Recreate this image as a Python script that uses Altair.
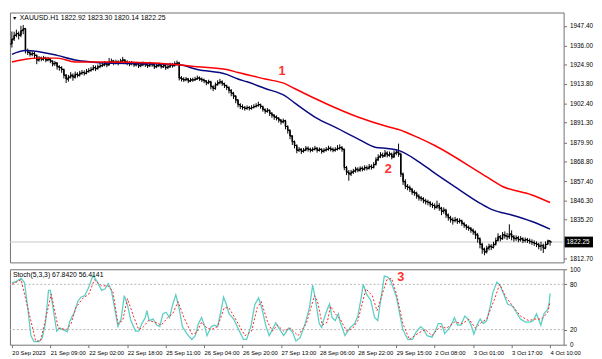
import altair as alt
import pandas as pd

# ---------------- data ----------------
first_open = 1936.9
closes = [
    1939.7, 1941.9, 1943.0, 1941.9, 1944.6, 1945.7, 1933.1, 1932.0, 1930.9, 1931.4,
    1930.3, 1927.6, 1928.7, 1928.1, 1928.7, 1927.6, 1928.1, 1927.0, 1925.4, 1925.9,
    1923.7, 1923.2, 1922.1, 1918.8, 1916.6, 1917.7, 1918.8, 1917.7, 1919.3, 1918.8,
    1919.9, 1920.4, 1919.9, 1921.0, 1921.5, 1922.1, 1923.2, 1922.6, 1923.7, 1924.3,
    1924.8, 1925.4, 1924.8, 1926.5, 1927.0, 1925.9, 1926.5, 1925.9, 1927.0, 1927.6,
    1926.5, 1925.9, 1925.4, 1925.9, 1924.8, 1925.4, 1924.3, 1924.8, 1925.4, 1924.8,
    1924.3, 1925.4, 1924.8, 1923.7, 1924.3, 1924.8, 1923.7, 1924.3, 1923.2, 1923.7,
    1924.8, 1924.3, 1925.4, 1925.9, 1917.2, 1916.6, 1916.1, 1916.6, 1915.5, 1916.1,
    1916.1, 1916.6, 1917.2, 1916.6, 1916.1, 1915.5, 1914.4, 1915.0, 1912.2, 1911.1,
    1913.3, 1914.4, 1915.0, 1913.9, 1912.8, 1911.7, 1910.0, 1908.4, 1906.7, 1904.5,
    1901.8, 1900.7, 1900.1, 1899.6, 1900.1, 1899.6, 1900.1, 1900.7, 1901.2, 1901.8,
    1900.7, 1899.0, 1897.9, 1898.5, 1896.8, 1895.7, 1894.6, 1894.0, 1892.9, 1891.8,
    1892.4, 1889.1, 1886.9, 1883.6, 1880.3, 1878.1, 1875.4, 1875.9, 1874.8, 1875.4,
    1876.5, 1875.9, 1875.4, 1875.9, 1876.5, 1875.4, 1875.9, 1874.8, 1875.4, 1875.9,
    1876.5, 1875.9, 1875.4, 1875.9, 1876.5, 1877.0, 1875.9, 1865.4, 1862.7, 1861.6,
    1862.7, 1863.3, 1864.4, 1863.8, 1864.9, 1864.4, 1865.4, 1864.9, 1866.0, 1865.4,
    1867.1, 1869.8, 1871.5, 1872.6, 1872.1, 1873.7, 1872.6, 1873.2, 1871.5, 1873.7,
    1874.3, 1873.2, 1861.6, 1857.2, 1854.5, 1853.9, 1852.8, 1851.1, 1850.6, 1848.9,
    1847.8, 1847.3, 1846.2, 1845.6, 1845.1, 1844.0, 1843.4, 1842.3, 1843.4, 1841.8,
    1840.1, 1840.7, 1837.9, 1836.3, 1835.2, 1834.6, 1835.2, 1834.1, 1834.6, 1833.0,
    1831.9, 1830.8, 1830.2, 1829.1, 1828.0, 1826.4, 1824.2, 1820.9, 1818.1, 1816.5,
    1818.7, 1819.8, 1819.2, 1820.9, 1823.1, 1825.3, 1824.2, 1826.4, 1825.8, 1825.3,
    1826.9, 1825.3, 1824.2, 1824.7, 1823.6, 1824.2, 1823.1, 1823.6, 1823.1, 1822.5,
    1822.0, 1821.4, 1820.9, 1819.8, 1820.3, 1818.7, 1820.9, 1822.9, 1822.25,
]
highs = [
    1944.1, 1944.0, 1945.2, 1944.1, 1947.4, 1947.9, 1946.2, 1934.2, 1933.1, 1932.6,
    1932.2, 1930.8, 1929.9, 1929.6, 1930.0, 1929.5, 1929.4, 1928.9, 1927.5, 1927.0,
    1926.4, 1924.6, 1924.0, 1922.7, 1919.5, 1919.0, 1920.6, 1919.8, 1920.9, 1920.5,
    1921.3, 1921.8, 1921.6, 1922.4, 1922.9, 1923.6, 1924.7, 1924.4, 1925.0, 1925.8,
    1926.3, 1926.9, 1926.6, 1928.8, 1928.4, 1927.7, 1927.8, 1927.5, 1928.3, 1929.4,
    1928.2, 1927.4, 1926.9, 1927.1, 1926.6, 1926.5, 1926.0, 1925.9, 1926.7, 1926.3,
    1925.7, 1926.6, 1926.2, 1925.3, 1925.4, 1926.1, 1925.5, 1925.6, 1924.9, 1924.8,
    1926.0, 1925.9, 1926.8, 1927.3, 1926.6, 1918.3, 1917.6, 1917.8, 1917.2, 1917.3,
    1917.4, 1917.9, 1918.6, 1918.1, 1917.5, 1916.9, 1916.0, 1916.2, 1915.6, 1913.0,
    1914.6, 1915.9, 1916.7, 1915.8, 1914.5, 1913.3, 1912.4, 1910.8, 1909.2, 1907.3,
    1905.0, 1902.6, 1901.9, 1901.0, 1901.3, 1901.0, 1901.4, 1902.0, 1902.6, 1903.5,
    1902.4, 1901.2, 1899.6, 1899.8, 1899.0, 1897.4, 1896.3, 1895.6, 1894.5, 1893.5,
    1893.7, 1893.0, 1889.8, 1887.5, 1884.2, 1881.0, 1878.8, 1877.2, 1876.6, 1876.7,
    1877.8, 1877.6, 1876.9, 1877.1, 1877.9, 1877.2, 1877.0, 1876.5, 1876.6, 1877.2,
    1878.0, 1877.6, 1876.9, 1877.1, 1878.4, 1878.8, 1877.8, 1876.4, 1866.3, 1863.9,
    1864.0, 1864.6, 1865.8, 1865.5, 1866.1, 1866.0, 1866.7, 1866.5, 1867.4, 1867.2,
    1868.5, 1871.3, 1873.0, 1874.3, 1874.0, 1875.5, 1874.8, 1874.6, 1874.0, 1875.2,
    1876.0, 1879.2, 1874.0, 1862.5, 1858.6, 1855.8, 1854.9, 1853.6, 1852.3, 1851.4,
    1849.9, 1848.9, 1848.2, 1847.3, 1846.7, 1846.0, 1845.1, 1844.6, 1846.2, 1844.8,
    1842.6, 1842.3, 1841.5, 1838.8, 1837.4, 1836.5, 1836.8, 1836.1, 1836.0, 1835.2,
    1833.8, 1832.6, 1831.8, 1831.0, 1830.0, 1828.9, 1827.5, 1825.0, 1821.8, 1819.0,
    1820.1, 1821.3, 1821.0, 1822.4, 1824.8, 1827.3, 1826.3, 1828.0, 1828.4, 1827.5,
    1832.5, 1829.0, 1826.3, 1826.1, 1825.8, 1825.7, 1825.0, 1824.9, 1824.6, 1824.3,
    1823.8, 1823.2, 1822.6, 1821.8, 1822.4, 1821.3, 1822.6, 1823.6, 1823.30,
]
lows = [
    1934.8, 1938.6, 1940.8, 1939.5, 1940.8, 1942.5, 1931.4, 1930.5, 1929.6, 1929.8,
    1928.4, 1925.2, 1926.6, 1926.9, 1927.2, 1926.3, 1926.8, 1925.8, 1923.9, 1924.2,
    1922.0, 1921.4, 1920.2, 1916.9, 1914.3, 1915.1, 1916.9, 1915.6, 1916.8, 1917.5,
    1918.0, 1919.0, 1918.6, 1919.3, 1920.2, 1920.8, 1921.5, 1921.2, 1922.0, 1922.9,
    1923.5, 1924.0, 1923.4, 1924.2, 1925.6, 1924.6, 1925.1, 1924.5, 1925.3, 1926.1,
    1925.2, 1924.6, 1924.0, 1924.5, 1923.6, 1923.9, 1923.0, 1923.4, 1924.0, 1923.6,
    1923.0, 1923.5, 1923.7, 1922.4, 1922.9, 1923.5, 1922.6, 1923.0, 1921.9, 1922.4,
    1923.1, 1923.2, 1923.8, 1924.7, 1915.8, 1915.2, 1914.9, 1915.3, 1914.2, 1914.8,
    1915.0, 1915.4, 1916.0, 1915.5, 1914.9, 1914.2, 1913.0, 1913.6, 1910.6, 1909.6,
    1910.3, 1912.7, 1913.5, 1912.6, 1911.4, 1910.2, 1908.3, 1906.6, 1905.0, 1902.6,
    1900.2, 1899.2, 1898.8, 1898.3, 1898.7, 1898.4, 1898.8, 1899.5, 1900.0, 1900.6,
    1899.4, 1897.7, 1896.5, 1897.1, 1895.2, 1894.1, 1893.0, 1892.6, 1891.4, 1890.2,
    1890.9, 1887.5, 1885.0, 1881.7, 1878.4, 1876.4, 1873.6, 1874.3, 1873.2, 1873.9,
    1874.8, 1874.6, 1874.1, 1874.5, 1875.2, 1874.0, 1874.6, 1873.4, 1873.9, 1874.6,
    1875.1, 1874.7, 1874.2, 1874.5, 1875.2, 1875.6, 1874.5, 1863.8, 1861.0, 1857.7,
    1860.4, 1861.6, 1862.4, 1862.6, 1862.9, 1863.1, 1863.6, 1863.7, 1864.2, 1864.1,
    1864.8, 1866.5, 1869.1, 1870.8, 1870.9, 1871.4, 1871.2, 1871.6, 1870.1, 1870.8,
    1872.5, 1871.6, 1859.9, 1855.3, 1852.9, 1852.2, 1851.2, 1849.6, 1849.0, 1847.3,
    1846.2, 1845.8, 1844.7, 1844.0, 1843.5, 1842.5, 1841.9, 1840.9, 1841.5, 1840.3,
    1837.8, 1838.6, 1836.2, 1834.6, 1833.5, 1832.3, 1833.6, 1832.7, 1833.0, 1831.6,
    1830.4, 1829.3, 1828.7, 1827.6, 1826.4, 1824.0, 1821.8, 1818.6, 1815.4, 1814.6,
    1815.6, 1817.4, 1817.6, 1818.5, 1820.2, 1822.5, 1822.6, 1823.5, 1824.2, 1823.4,
    1824.0, 1823.2, 1822.4, 1822.9, 1822.1, 1822.5, 1821.6, 1822.0, 1821.7, 1821.1,
    1820.5, 1820.0, 1819.3, 1818.0, 1817.2, 1815.9, 1818.1, 1820.6, 1820.14,
]

# moving averages (bar index, price)
ma_blue = [(0, 1930.9), (6, 1933.1), (20, 1930.3), (28, 1927.6), (35, 1926.5), (42, 1925.9),
           (63, 1925.4), (74, 1924.8), (82, 1922.1), (95, 1919.3), (100, 1916.6), (104, 1915.0),
           (112, 1911.1), (121, 1906.7), (125, 1902.8), (134, 1894.6), (144, 1888.0), (153, 1882.0),
           (161, 1877.0), (166, 1876.4), (171, 1875.3), (180, 1868.7), (187, 1862.1), (197, 1853.3),
           (208, 1844.0), (213, 1840.7), (221, 1837.9), (230, 1834.1), (238, 1829.7)]
ma_red = [(0, 1926.5), (6, 1928.1), (11, 1928.7), (20, 1928.7), (28, 1926.5), (42, 1926.5),
          (63, 1925.9), (74, 1924.8), (82, 1923.7), (95, 1922.1), (100, 1920.4), (112, 1916.6),
          (121, 1913.8), (125, 1911.1), (140, 1901.7), (153, 1894.6), (166, 1889.1), (171, 1887.4),
          (180, 1882.5), (187, 1878.1), (208, 1861.6), (217, 1854.4), (230, 1849.5), (238, 1845.1)]

# stochastic %K and %D (bar index, value)
stoch_k = [(0, 82), (2, 84), (4.1, 88), (5.6, 82), (7, 49), (8.4, 12), (9.8, 4), (12, 4), (13.4, 9),
           (14.8, 28), (16.2, 72), (17, 72), (18.4, 45), (19.8, 18), (21.2, 22), (22.6, 20), (24.5, 17),
           (25.5, 30), (27.6, 43), (29.1, 57), (30.5, 63), (32.2, 65), (34, 76), (35.9, 92), (37.6, 84),
           (39.7, 72), (41.2, 74), (42.6, 81), (44, 72), (45.4, 49), (46.9, 24), (48.3, 34), (49.7, 65),
           (51.1, 53), (52.6, 32), (54.7, 18), (56.1, 18), (57.5, 28), (59, 36), (59.7, 45), (60.7, 32),
           (62.5, 34), (64, 26), (65.4, 24), (66.8, 41), (68.2, 43), (69.7, 36), (71.1, 53), (72.5, 66),
           (73.9, 49), (75.4, 24), (77.5, 14), (79.6, 7), (81.1, 12), (82.5, 28), (83.9, 36), (85.3, 24),
           (86.3, 12), (88.2, 24), (89.6, 26), (91, 24), (92.5, 45), (93.6, 63), (94.9, 53), (96, 41),
           (98.1, 34), (100.3, 20), (102.4, 7), (103.8, 7), (105.7, 24), (107.4, 53), (109.1, 62),
           (110.5, 49), (112.4, 24), (113.8, 12), (115.2, 20), (116.7, 29), (118.1, 22), (120.2, 12),
           (122.4, 22), (124.2, 16), (125.6, 5), (127.4, 9), (129.5, 26), (131.6, 49), (133, 79),
           (134.2, 61), (135.9, 28), (137, 23), (138, 34), (139.5, 47), (140.5, 54), (141.6, 36),
           (143, 32), (144.4, 41), (145.2, 30), (147.3, 12), (149.4, 22), (151.6, 28), (153, 38),
           (154.4, 61), (155.4, 80), (156.8, 67), (158.7, 59), (160.4, 36), (161.8, 32), (163.2, 61),
           (164.7, 91), (166.1, 90), (167.5, 85), (169, 72), (170.1, 63), (171.5, 41), (172.9, 20),
           (175.1, 7), (177.2, 7), (178.6, 16), (180.8, 24), (182.2, 20), (183.6, 12), (185.8, 10),
           (187.2, 18), (188.6, 28), (190, 28), (191.4, 15), (192.9, 20), (194.3, 26), (195.7, 36),
           (197.1, 26), (198.6, 26), (200.3, 38), (201.7, 34), (203.1, 26), (204.3, 14), (205.7, 26),
           (207.1, 34), (208.5, 28), (210, 32), (211.4, 49), (212.8, 70), (214.5, 83), (216, 78),
           (217.8, 65), (219.2, 54), (221.4, 51), (223.1, 43), (224.9, 34), (227.1, 30), (229.2, 30),
           (230.6, 32), (232, 41), (233.9, 26), (235.3, 41), (237, 47), (237.6, 55), (238, 67.84)]
stoch_d = [(0, 80), (4.1, 86), (10.5, 5), (12.7, 5), (17.4, 67), (20.5, 22), (24.1, 20), (26.2, 28),
           (28.3, 49), (31.2, 61), (34, 67), (36.5, 86), (39.7, 78), (42.6, 78), (44.7, 70), (46.9, 28),
           (49, 32), (51.1, 61), (54, 36), (56.1, 20), (58.3, 24), (60.4, 32), (63.2, 30), (66.1, 26),
           (68.9, 36), (71.1, 41), (73.5, 57), (76.1, 36), (79.6, 14), (81.8, 16), (83.9, 30), (86.3, 22),
           (88.2, 20), (91, 24), (93.9, 49), (96, 49), (98.9, 34), (103.1, 12), (106, 18), (108.5, 49),
           (110.3, 57), (113.1, 30), (115.2, 18), (117.4, 26), (120.2, 18), (123.1, 22), (126.6, 12),
           (130.2, 28), (133.8, 65), (135.2, 57), (137.3, 26), (139.5, 30), (140.9, 51), (143, 41),
           (145.2, 34), (148, 18), (150.8, 22), (153, 32), (156.6, 74), (159.4, 65), (161.5, 45),
           (165.8, 86), (167.9, 88), (170.1, 67), (172.9, 28), (175.8, 7), (180.1, 16), (182.9, 20),
           (185.8, 12), (189.3, 24), (192.2, 22), (195.7, 30), (199.3, 28), (202.1, 34), (205, 22),
           (207.8, 30), (210, 34), (213.5, 61), (215.7, 80), (218.5, 63), (222.1, 49), (224.9, 38),
           (228.5, 32), (231.3, 34), (234.2, 34), (237, 43), (238, 56.41)]

x_labels = ["20 Sep 2023", "21 Sep 09:00", "22 Sep 02:00", "22 Sep 18:00", "25 Sep 11:00",
            "26 Sep 04:00", "26 Sep 20:00", "27 Sep 13:00", "28 Sep 06:00", "28 Sep 22:00",
            "29 Sep 15:00", "2 Oct 08:00", "3 Oct 01:00", "3 Oct 17:00", "4 Oct 10:00"]
bars_per_label = 17
price_ticks = [1947.40, 1936.00, 1924.90, 1913.80, 1902.40, 1891.30, 1879.90, 1868.80,
               1857.40, 1846.30, 1835.20, 1812.70]
stoch_ticks = [0, 20, 80, 100]
stoch_levels = [20, 80]
last_price = 1822.25
header_text = "XAUUSD.H1  1822.92 1823.30 1820.14 1822.25"
stoch_text = "Stoch(5,3,3) 67.8420 56.4141"
price_notes = [("1", 119.5, 1921.0), ("2", 166.5, 1864.3)]
stoch_notes = [("3", 172.0, 89.0)]

# ---------------- chart ----------------
W = 565
H_MAIN = 255
H_STOCH = 77
FONT = "Liberation Sans"
BORDER = "#707070"

opens = [first_open] + closes[:-1]
bars = pd.DataFrame({"i": list(range(len(closes))), "open": opens, "close": closes,
                     "high": highs, "low": lows})
blue_df = pd.DataFrame(ma_blue, columns=["i", "v"])
red_df = pd.DataFrame(ma_red, columns=["i", "v"])
k_df = pd.DataFrame(stoch_k, columns=["i", "v"])
d_df = pd.DataFrame(stoch_d, columns=["i", "v"])

xs = alt.Scale(domain=[-0.85, 244], nice=False, zero=False)
ys = alt.Scale(domain=[1810.45, 1955.1], nice=False, zero=False)
ss = alt.Scale(domain=[0, 100], nice=False, zero=False)

price_axis = alt.Axis(orient="right", values=price_ticks, format=".2f", title=None, grid=False,
                      domain=False, tickSize=3, labelPadding=3, labelFontSize=6.5)
stoch_axis = alt.Axis(orient="right", values=stoch_ticks, format="d", title=None, grid=False,
                      domain=False, tickSize=3, labelPadding=3, labelFontSize=6.5)
label_js = "[" + ",".join("'" + s + "'" for s in x_labels) + "]"
time_axis = alt.Axis(values=[k * bars_per_label for k in range(len(x_labels))],
                     labelExpr=label_js + "[round(datum.value / %d)]" % bars_per_label,
                     labelAlign="left", labelPadding=2, tickSize=3, title=None, grid=False,
                     domain=False, labelOverlap=False, labelFlush=False, labelBound=False,
                     labelFontSize=6)

xm = alt.X("i:Q", scale=xs, axis=None)


def yp(field):
    return alt.Y(field, scale=ys, axis=price_axis)


cur_df = pd.DataFrame({"p": [last_price], "t": ["%.2f" % last_price]})

cur_line = alt.Chart(cur_df).mark_rule(color="#c8c8c8", strokeWidth=1).encode(y=yp("p:Q"))
hl = alt.Chart(bars).mark_rule(color="black", strokeWidth=1).encode(x=xm, y=yp("low:Q"), y2="high:Q")
body = alt.Chart(bars).mark_rule(color="black", strokeWidth=1.6).encode(
    x=xm, y=yp("open:Q"), y2="close:Q")
op = alt.Chart(bars).mark_tick(orient="horizontal", size=2, thickness=1, xOffset=-1, color="black",
                               opacity=1).encode(x=xm, y=yp("open:Q"))
cl = alt.Chart(bars).mark_tick(orient="horizontal", size=2, thickness=1, xOffset=1, color="black",
                               opacity=1).encode(x=xm, y=yp("close:Q"))
blue = alt.Chart(blue_df).mark_line(color="#0a0a80", strokeWidth=1.5, interpolate="monotone").encode(
    x=xm, y=yp("v:Q"))
red = alt.Chart(red_df).mark_line(color="#ff0000", strokeWidth=1.5, interpolate="monotone").encode(
    x=xm, y=yp("v:Q"))
notes_df = pd.DataFrame(price_notes, columns=["t", "i", "v"])
notes = alt.Chart(notes_df).mark_text(color="#ff3030", fontSize=13, fontWeight="bold",
                                      font="Liberation Sans").encode(x=xm, y=yp("v:Q"), text="t:N")
box = alt.Chart(cur_df).mark_tick(orient="horizontal", size=29, thickness=11, color="black",
                                  opacity=1).encode(x=alt.value(W + 15.5), y=yp("p:Q"))
box_txt = alt.Chart(cur_df).mark_text(color="white", fontSize=6.5, font=FONT, align="left",
                                      baseline="middle").encode(x=alt.value(W + 3), y=yp("p:Q"),
                                                                text="t:N")
head_df = pd.DataFrame({"t": [header_text], "m": ["\u25bc"]})
head = alt.Chart(head_df).mark_text(align="left", baseline="middle", fontSize=7, font=FONT,
                                    color="black").encode(x=alt.value(10), y=alt.value(6), text="t:N")
head_mark = alt.Chart(head_df).mark_text(align="left", baseline="middle", fontSize=5.5,
                                         color="black").encode(x=alt.value(2), y=alt.value(6),
                                                               text="m:N")

main = alt.layer(cur_line, hl, body, op, cl, blue, red, notes, box, box_txt, head_mark,
                 head).properties(width=W, height=H_MAIN)

xt = alt.X("i:Q", scale=xs, axis=time_axis)


def ysv(field):
    return alt.Y(field, scale=ss, axis=stoch_axis)


lev_df = pd.DataFrame({"v": stoch_levels})
levels = alt.Chart(lev_df).mark_rule(color="#b4b4b4", strokeDash=[2, 2], strokeWidth=1).encode(
    y=ysv("v:Q"))
kline = alt.Chart(k_df).mark_line(color="#5ccfc5", strokeWidth=1.3).encode(x=xt, y=ysv("v:Q"))
dline = alt.Chart(d_df).mark_line(color="#ff2020", strokeWidth=1, strokeDash=[2, 2]).encode(
    x=xt, y=ysv("v:Q"))
snotes_df = pd.DataFrame(stoch_notes, columns=["t", "i", "v"])
snotes = alt.Chart(snotes_df).mark_text(color="#ff3030", fontSize=13, fontWeight="bold",
                                        font="Liberation Sans").encode(x=xt, y=ysv("v:Q"), text="t:N")
s_head_df = pd.DataFrame({"t": [stoch_text]})
s_head = alt.Chart(s_head_df).mark_text(align="left", baseline="middle", fontSize=7, font=FONT,
                                        color="black").encode(x=alt.value(3), y=alt.value(6),
                                                              text="t:N")

stoch = alt.layer(levels, kline, dline, snotes, s_head).properties(width=W, height=H_STOCH)

chart = alt.vconcat(main, stoch, spacing=2).properties(padding=0, background="white").configure_view(
    stroke=BORDER, strokeWidth=1
).configure_axis(
    labelFont=FONT, labelColor="black", tickColor=BORDER
)

chart.save("out.html", embed_options={"renderer": "svg", "actions": False})
